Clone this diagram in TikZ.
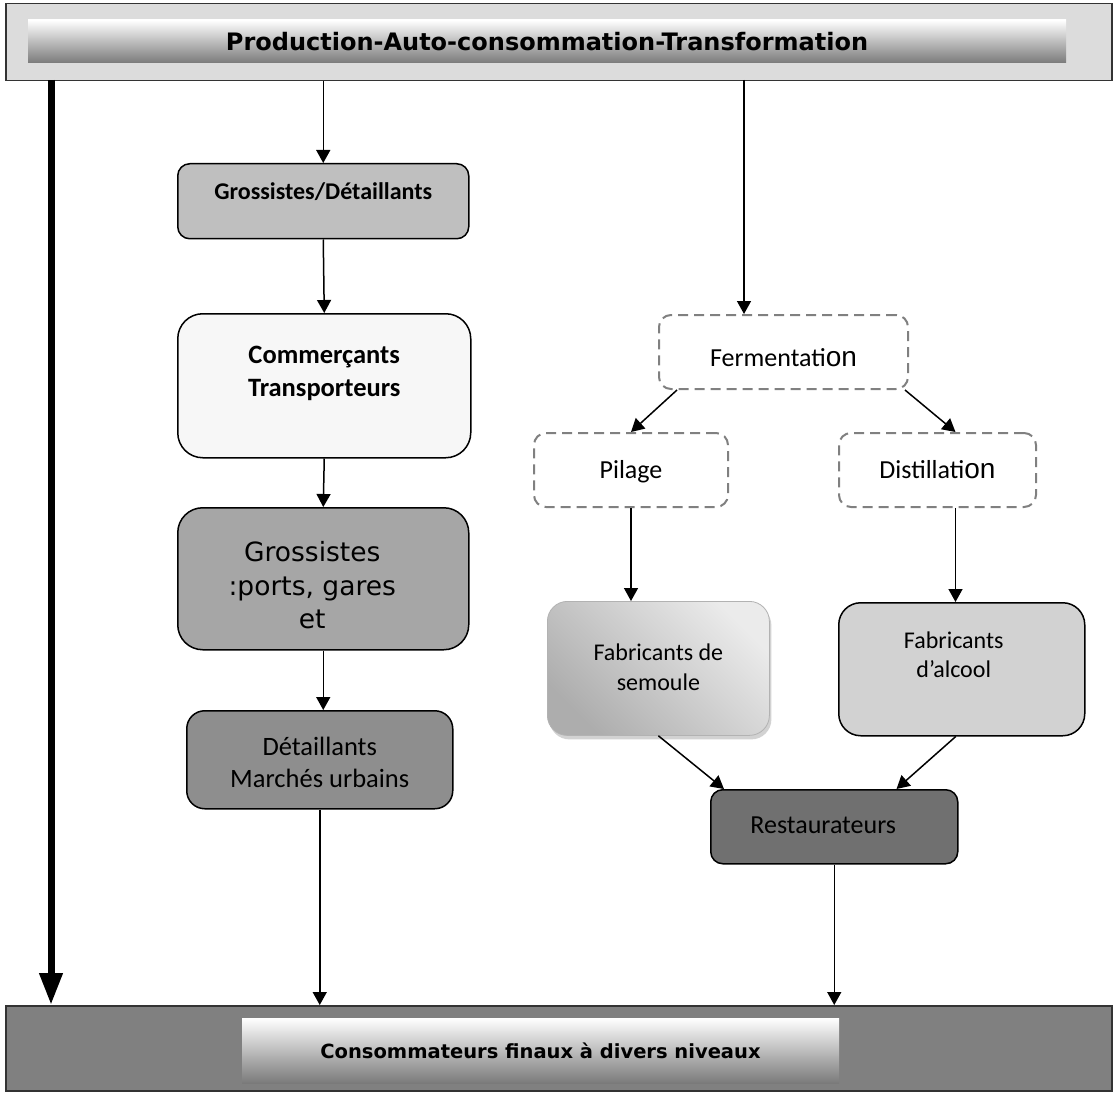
\documentclass[tikz,border=0pt]{standalone}
\usepackage{fontspec}
\setmainfont{Carlito}
\newfontfamily\verdfont{DejaVu Sans}
\newfontfamily\arialfont{Liberation Sans}
\usetikzlibrary{arrows.meta, shadows}
\definecolor{barlight}{RGB}{220,220,220}
\definecolor{bardark}{RGB}{128,128,128}
\definecolor{boxgd}{RGB}{191,191,191}
\definecolor{boxct}{RGB}{247,247,247}
\definecolor{boxgr}{RGB}{166,166,166}
\definecolor{boxdm}{RGB}{142,142,142}
\definecolor{boxfa}{RGB}{210,210,210}
\definecolor{boxre}{RGB}{112,112,112}
\definecolor{dashgray}{RGB}{128,128,128}
\newcommand{\fsz}[2]{\fontsize{#1pt}{#2pt}\selectfont}
\newcommand{\tailon}{{\arialfont\fsz{28}{30}on}}

\begin{document}
\begin{tikzpicture}[x=1pt, y=-1pt,
  bar/.style={draw=black!80, line width=1.5pt, anchor=north west, inner sep=0pt},
  glow/.style={top color=white, middle color=black!6, bottom color=black!52, inner sep=0pt, font=\verdfont\bfseries\fsz{24}{28}},
  fbox/.style={draw, line width=1.5pt, anchor=north west, inner ysep=0pt, align=center, font=\fsz{25}{32}},
  dbox/.style={draw=dashgray, line width=2pt, dash pattern=on 10pt off 6pt, rounded corners=12pt, anchor=north west, inner ysep=0pt, align=center, font=\fsz{26}{32}},
  arr/.style={line width=1.5pt, -{Triangle[length=13pt, width=14pt]}},
  fat/.style={line width=7pt, -{Triangle[length=32pt, width=22pt]}}
]
  \path[use as bounding box, fill=white] (0,0) rectangle (1114,1094);

  \node[bar, fill=barlight, minimum width=1106pt, minimum height=77pt] (top) at (5,3) {};
  \node[glow, minimum width=1038pt, minimum height=43pt] (title) at (547,41.5) {Production-Auto-consommation-Transformation};

  \node[bar, fill=bardark, minimum width=1106pt, minimum height=85pt] (bot) at (5,1005) {};
  \node[glow, font=\verdfont\bfseries\fsz{19.5}{23}, minimum width=597pt, minimum height=65pt] (sink) at (540.5,1050.5) {Consommateurs finaux à divers niveaux};

  \node[fbox, fill=boxgd, rounded corners=12pt, minimum width=291pt, text height=36pt, text depth=39pt, font=\bfseries\fsz{24}{28}] (gd) at (177,163) {Grossistes/Détaillants};
  \node[fbox, fill=boxct, rounded corners=25pt, minimum width=293pt, text height=83pt, text depth=61pt, font=\bfseries\fsz{26.5}{33}] (ct) at (177,313) {Commerçants\\Transporteurs};
  \node[fbox, fill=boxgr, rounded corners=25pt, minimum width=291pt, text height=121pt, text depth=21pt, font=\verdfont\fsz{26.5}{33.5}] (gr) at (177,507) {\hspace*{-22pt}Grossistes\\\hspace*{-22pt}:ports, gares\\\hspace*{-22pt}et};
  \node[fbox, fill=boxdm, rounded corners=18pt, minimum width=266pt, text height=77pt, text depth=21pt, font=\fsz{26.5}{32}] (dm) at (186,710) {Détaillants\\Marchés urbains};

  \node[dbox, minimum width=249pt, text height=51pt, text depth=23pt] (fe) at (658,314) {Fermentati\tailon};
  \node[dbox, minimum width=194pt, text height=45pt, text depth=29pt] (pi) at (533,432) {Pilage};
  \node[dbox, minimum width=197pt, text height=45pt, text depth=29pt] (di) at (838,432) {Distillati\tailon};
  \node[fbox, draw=black!30, line width=0.8pt, top color=black!32, bottom color=black!8, shading angle=135, drop shadow={shadow xshift=2pt, shadow yshift=-4pt, fill=black!35}, rounded corners=20pt, minimum width=222pt, text height=89pt, text depth=45pt, font=\fsz{24}{30}] (fs) at (547,601) {Fabricants de\\semoule};
  \node[fbox, fill=boxfa, rounded corners=22pt, minimum width=246pt, text height=75pt, text depth=58pt, font=\fsz{24}{29}] (fa) at (838,602) {\hspace*{-16pt}Fabricants\\\hspace*{-16pt}d’alcool};
  \node[fbox, fill=boxre, rounded corners=12pt, minimum width=247pt, text height=44pt, text depth=30pt, font=\fsz{26}{30}] (re) at (710,789) {\hspace*{-22pt}Restaurateurs};

  \coordinate (lft) at (51,80);
  \coordinate (fin) at (744,80);
  \draw[fat] (lft) -- (lft |- bot.north);
  \draw[arr] (top.south -| gd.north) -- (gd.north);
  \draw[arr] (gd.south) -- (ct.north);
  \draw[arr] (ct.south) -- (gr.north);
  \draw[arr] (gr.south) -- (gr.south |- dm.north);
  \draw[arr] (dm.south) -- (dm.south |- bot.north);
  \draw[arr] (fin) -- (fin |- fe.north);
  \draw[arr] ([xshift=19pt]fe.south west) -- (pi.north);
  \draw[arr] ([xshift=-4pt]fe.south east) -- ([xshift=18pt]di.north);
  \draw[arr] (pi.south) -- (pi.south |- fs.north);
  \draw[arr] ([xshift=18pt]di.south) -- ([xshift=18pt]di.south |- fa.north);
  \draw[arr] (fs.south) -- ([xshift=14pt]re.north west);
  \draw[arr] ([xshift=-6pt]fa.south) -- ([xshift=-62pt]re.north east);
  \draw[arr] (re.south) -- (re.south |- bot.north);
\end{tikzpicture}
\end{document}
